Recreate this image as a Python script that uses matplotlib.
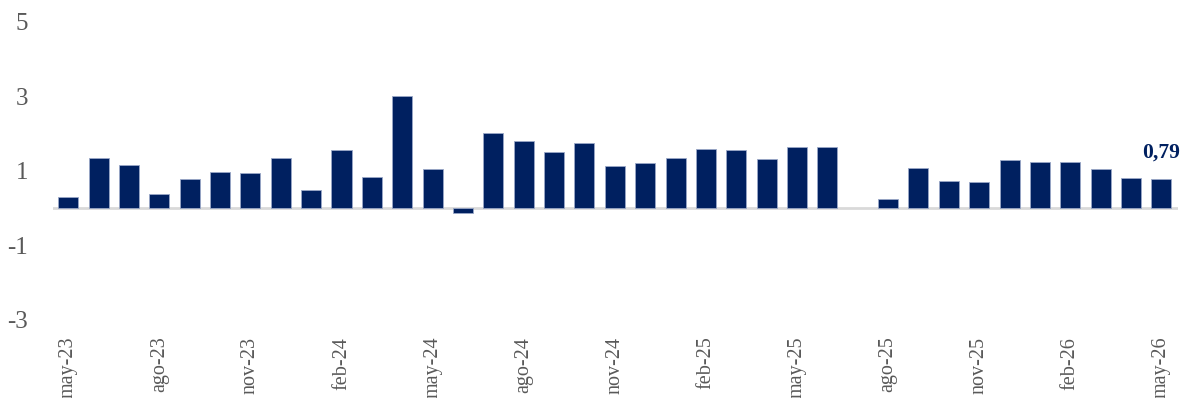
import numpy as np
import matplotlib.pyplot as plt

plt.rcParams['font.family'] = ['Liberation Serif', 'DejaVu Serif']

months = ['may-23', 'jun-23', 'jul-23', 'ago-23', 'sep-23', 'oct-23', 'nov-23', 'dic-23',
          'ene-24', 'feb-24', 'mar-24', 'abr-24', 'may-24', 'jun-24', 'jul-24', 'ago-24',
          'sep-24', 'oct-24', 'nov-24', 'dic-24', 'ene-25', 'feb-25', 'mar-25', 'abr-25',
          'may-25', 'jun-25', 'jul-25', 'ago-25', 'sep-25', 'oct-25', 'nov-25', 'dic-25',
          'ene-26', 'feb-26', 'mar-26', 'abr-26', 'may-26']
values = [0.31, 1.35, 1.17, 0.38, 0.78, 0.97, 0.94, 1.36,
          0.48, 1.56, 0.84, 3.0, 1.06, -0.12, 2.02, 1.8,
          1.52, 1.76, 1.13, 1.2, 1.35, 1.6, 1.55, 1.32,
          1.65, 1.65, np.nan, 0.26, 1.08, 0.72, 0.71, 1.3,
          1.23, 1.25, 1.04, 0.8, 0.79]
last_label = '0,79'

navy = '#002060'
grey = '#595959'

fig = plt.figure(figsize=(11.84, 3.98), dpi=100)
ax = fig.add_axes([0.0448, 0.196, 0.9502, 0.749])

x = np.arange(len(months))
ax.bar(x, values, width=0.66, color=navy, edgecolor='#9aa8c8', linewidth=0.6, zorder=2)
ax.axhline(0, color='#d9d9d9', lw=2, zorder=1)

ax.annotate(last_label, (x[-1], values[-1]), xytext=(0, 12), textcoords='offset points',
            ha='center', va='bottom', fontsize=15.5, fontweight='bold', color=navy)

ax.set_xlim(-0.5, len(months) - 0.45)
ax.set_ylim(-3, 5)
ax.set_yticks([-3, -1, 1, 3, 5])
ax.set_yticklabels(['-3', '-1', '1', '3', '5'])
ax.set_xticks(x[::3])
ax.set_xticklabels(months[::3], rotation=90, va='top', ha='center')

ax.tick_params(axis='y', length=0, pad=18, labelsize=18, labelcolor=grey)
ax.tick_params(axis='x', length=0, pad=12, labelsize=14.5, labelcolor=grey)
for s in ax.spines.values():
    s.set_visible(False)

fig.savefig('out.png', dpi=100)
